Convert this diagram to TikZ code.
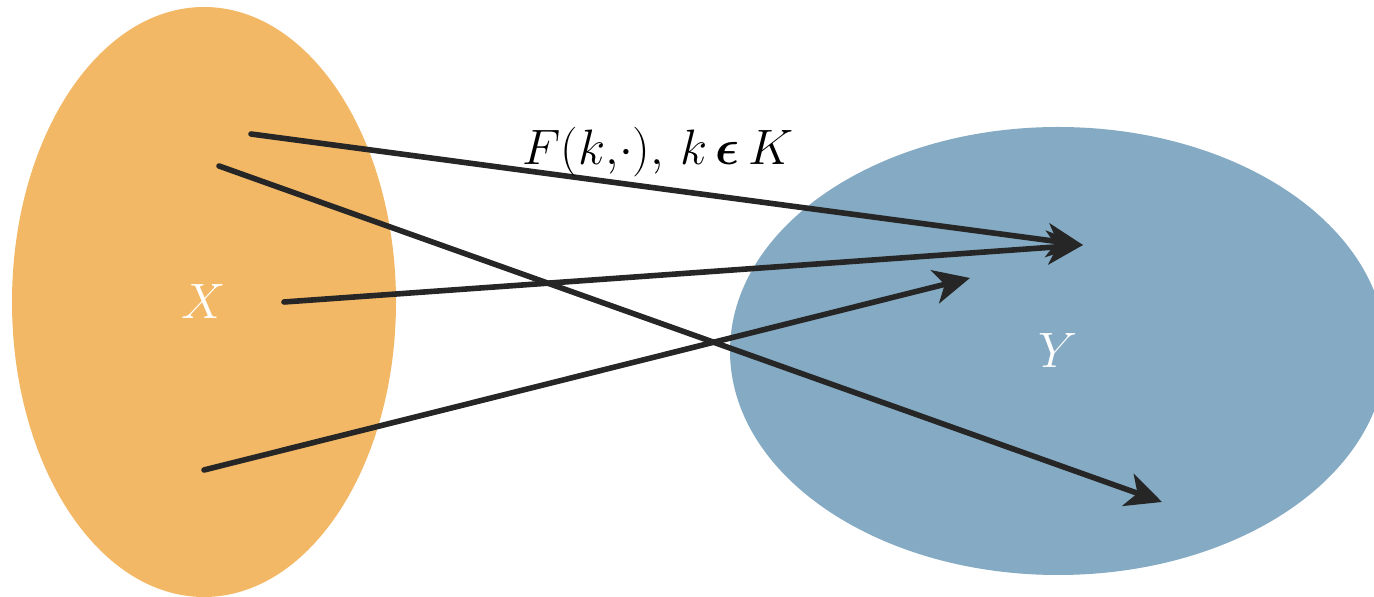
\documentclass[tikz,border=0pt]{standalone}
\usepackage{amsmath, amssymb, bm}
\usepackage{xcolor}
\usepackage{tikz}
\usetikzlibrary{shapes, arrows.meta, positioning, calc}

\definecolor{setorange}{HTML}{F3B866}
\definecolor{setblue}{HTML}{84ABC3}
\definecolor{maparrow}{HTML}{262626}

\begin{document}
\begin{tikzpicture}[x=0.5pt, y=-0.5pt, >={Stealth[length=18pt, width=17pt, inset=5pt]}]
        \tikzstyle{set} = [ellipse, inner sep=0pt, text=white, font=\fontsize{28}{32}\selectfont]
        \tikzstyle{map} = [->, draw=maparrow, line width=2.8pt, line cap=round]
        \tikzstyle{point} = [coordinate]

        \useasboundingbox (0,0) rectangle (1374,597);

        % --- 两个集合 ---
        \node [set, fill=setorange, minimum width=192pt, minimum height=295pt] (setX) at (204,302) {$X$};
        \node [set, fill=setblue, minimum width=328pt, minimum height=224pt] (setY) at (1058,351) {$Y$};

        % --- 起点与终点 ---
        \node [point] (x1) at (251,134) {};
        \node [point] (x2) at (219,166) {};
        \node [point] (x3) at (284,302) {};
        \node [point] (x4) at (204,470) {};
        \node [point] (y1) at (1083,245) {};
        \node [point] (y2) at (1162,502) {};
        \node [point] (y3) at (970,278) {};

        % --- 映射 ---
        \draw [map] (x1) -- (y1);
        \draw [map] (x2) -- (y2);
        \draw [map] (x3) -- (y1);
        \draw [map] (x4) -- (y3);

        \node [font=\fontsize{25}{30}\selectfont] (label) at (658,152) {$F(k{,}{\cdot}),\,k\,\bm{\epsilon}\,K$};

    \end{tikzpicture}
\end{document}
